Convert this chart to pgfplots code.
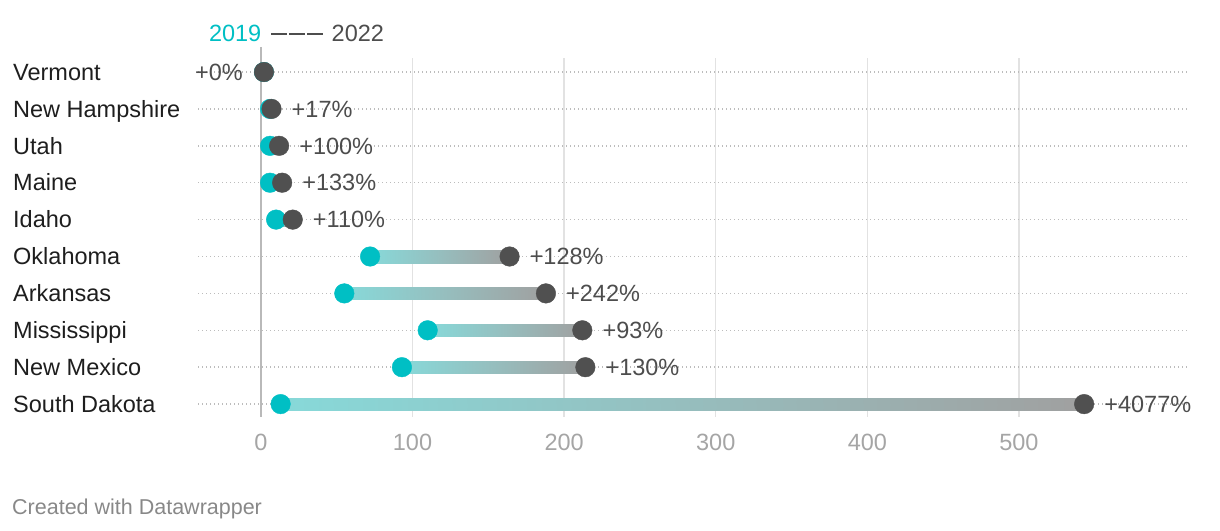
\documentclass[border=0pt]{standalone}
\usepackage{pgfplots}
\pgfplotsset{compat=1.18}
\usepackage{fontspec}
\setmainfont{Liberation Sans}
\definecolor{teal19}{RGB}{0,191,196}
\definecolor{dark22}{RGB}{80,80,80}
\definecolor{gridc}{RGB}{226,226,226}
\definecolor{dotc}{RGB}{188,188,188}
\definecolor{zeroc}{RGB}{185,185,185}
\definecolor{tickc}{RGB}{165,165,165}
\definecolor{labc}{RGB}{30,30,30}
\definecolor{valc}{RGB}{77,77,77}
\definecolor{footc}{RGB}{136,136,136}
\newcommand{\fs}{\fontsize{23.5}{27}\selectfont}
\begin{document}
\begin{tikzpicture}
\path[use as bounding box] (0,0) rectangle (1220pt,530pt);
\begin{axis}[
  at={(198pt,113pt)}, anchor=south west,
  scale only axis, width=990pt, height=359pt,
  xmin=-41.5, xmax=611.5, ymin=-0.38, ymax=9.35, y dir=reverse,
  axis line style={draw=none}, major tick length=0pt,
  xtick={0,100,200,300,400,500}, ytick={0,1,2,3,4,5,6,7,8,9},
  yticklabels={Vermont, New Hampshire, Utah, Maine, Idaho, Oklahoma, Arkansas, Mississippi, New Mexico, South Dakota},
  xmajorgrids, ymajorgrids,
  x grid style={gridc, line width=1.3pt},
  y grid style={dotc, line width=1.4pt, dash pattern=on 1.4pt off 2.6pt},
  /pgf/number format/assume math mode=true,
  xticklabel style={font=\fs, text=tickc, inner sep=0pt, anchor=north, yshift=-17pt},
  yticklabel style={font=\fs, text=labc, inner sep=0pt, anchor=west, xshift=-185pt, text height=16.5pt, text depth=0pt},
  clip=false,
  colormap={bar}{rgb255=(135,217,217) rgb255=(150,190,190) rgb255=(160,160,160)},
]
\draw[zeroc, line width=1.5pt] (axis cs:0,-0.68) -- (axis cs:0,9.35);
% connecting bars (2019 -> 2022)
\addplot[patch, patch type=rectangle, shader=interp, point meta=explicit, point meta min=0, point meta max=1]
table[meta=c] {
x y c
6 0.837 0
7 0.837 1
7 1.163 1
6 1.163 0
6 1.837 0
12 1.837 1
12 2.163 1
6 2.163 0
6 2.837 0
14 2.837 1
14 3.163 1
6 3.163 0
10 3.837 0
21 3.837 1
21 4.163 1
10 4.163 0
72 4.837 0
164 4.837 1
164 5.163 1
72 5.163 0
55 5.837 0
188 5.837 1
188 6.163 1
55 6.163 0
110 6.837 0
212 6.837 1
212 7.163 1
110 7.163 0
93 7.837 0
214 7.837 1
214 8.163 1
93 8.163 0
13 8.837 0
543 8.837 1
543 9.163 1
13 9.163 0
};
% 2019
\addplot[only marks, mark=*, mark size=9.8pt, color=teal19] coordinates {
(2,0) (6,1) (6,2) (6,3) (10,4) (72,5) (55,6) (110,7) (93,8) (13,9)};
% 2022 Vermont (label on left)
\addplot[only marks, mark=*, mark size=9.8pt, color=dark22,
  point meta=explicit symbolic, nodes near coords,
  every node near coord/.append style={font=\fs, text=valc, anchor=east, inner sep=0pt, xshift=-21pt, yshift=0pt, text height=16.5pt, text depth=0pt}]
coordinates {(2,0) [+0\%]};
% 2022 others
\addplot[only marks, mark=*, mark size=9.8pt, color=dark22,
  point meta=explicit symbolic, nodes near coords,
  every node near coord/.append style={font=\fs, text=valc, anchor=west, inner sep=0pt, xshift=20pt, yshift=0pt, text height=16.5pt, text depth=0pt}]
coordinates {(7,1) [+17\%] (12,2) [+100\%] (14,3) [+133\%] (21,4) [+110\%] (164,5) [+128\%] (188,6) [+242\%] (212,7) [+93\%] (214,8) [+130\%] (543,9) [+4077\%]};
\end{axis}
\node[anchor=base east, inner sep=0pt, text=teal19, font=\fs] at (261.5pt,488pt) {2019};
\draw[valc, line width=1.8pt] (271pt,496pt) -- (286.5pt,496pt);
\draw[valc, line width=1.8pt] (289pt,496pt) -- (304.5pt,496pt);
\draw[valc, line width=1.8pt] (307pt,496pt) -- (322.5pt,496pt);
\node[anchor=base west, inner sep=0pt, text=valc, font=\fs] at (331.5pt,488pt) {2022};
\node[anchor=base west, inner sep=0pt, text=footc, font=\fontsize{21.5}{25}\selectfont] at (12pt,16pt) {Created with Datawrapper};
\end{tikzpicture}
\end{document}
